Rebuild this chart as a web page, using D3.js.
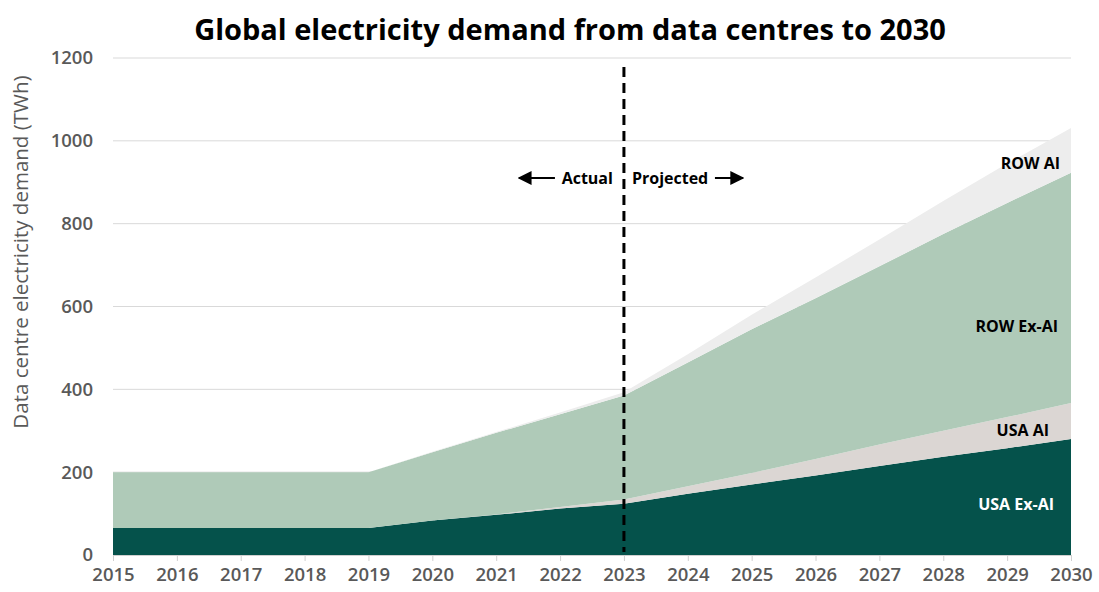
<!DOCTYPE html>
<html>
<head>
<meta charset="utf-8">
<script src="https://cdn.jsdelivr.net/npm/d3@7"></script>
<style>
  html, body { margin: 0; padding: 0; background: #fff; }
  svg text { font-family: 'Open Sans', 'Noto Sans', sans-serif; }
</style>
</head>
<body>
<div id="chart"></div>
<script>
// Data (TWh)
const years = [2015, 2016, 2017, 2018, 2019, 2020, 2021, 2022, 2023, 2024, 2025, 2026, 2027, 2028, 2029, 2030];
const usaExAI = [65, 65, 65, 65, 65, 83, 97, 112, 124, 148, 170, 192, 215, 237, 258, 280];
const usaAI = [0, 0, 0, 0, 0, 0, 1, 4, 10, 18, 28, 40, 52, 63, 75, 87];
const rowExAI = [135, 135, 135, 135, 135, 165, 197, 224, 251, 299, 347, 388, 430, 475, 517, 556];
const rowAI = [0, 0, 0, 0, 0, 1, 2, 4, 8, 20, 35, 50, 65, 80, 95, 108];
const seriesNames = ['USA Ex-AI', 'USA AI', 'ROW Ex-AI', 'ROW AI'];
const seriesColors = ['#05524b', '#dbd6d3', '#afcab8', '#ededed'];
const yTicks = [0, 200, 400, 600, 800, 1000, 1200];
const splitYear = 2023;

const W = 1099, H = 592;
const margin = { top: 58, right: 28, bottom: 37, left: 113 };
const innerW = W - margin.left - margin.right;
const innerH = H - margin.top - margin.bottom;

const rows = years.map((yr, i) => ({
  year: yr,
  'USA Ex-AI': usaExAI[i],
  'USA AI': usaAI[i],
  'ROW Ex-AI': rowExAI[i],
  'ROW AI': rowAI[i],
}));

const svg = d3.select('#chart').append('svg').attr('width', W).attr('height', H);

svg.append('text')
  .attr('x', 570).attr('y', 40)
  .attr('text-anchor', 'middle')
  .style('font-size', '29px').style('font-weight', 700).attr('fill', '#000')
  .text('Global electricity demand from data centres to 2030');

const g = svg.append('g').attr('transform', `translate(${margin.left},${margin.top})`);

const x = d3.scaleLinear().domain([2015, 2030]).range([0, innerW]);
const y = d3.scaleLinear().domain([0, 1200]).range([innerH, 0]);

// gridlines
g.selectAll('line.grid')
  .data(yTicks.filter((d) => d > 0))
  .enter()
  .append('line')
  .attr('class', 'grid')
  .attr('x1', 0).attr('x2', innerW)
  .attr('y1', (d) => y(d)).attr('y2', (d) => y(d))
  .attr('stroke', '#d9d9d9').attr('stroke-width', 1);

// stacked areas
const stack = d3.stack().keys(seriesNames);
const layers = stack(rows);
const area = d3.area()
  .x((d) => x(d.data.year))
  .y0((d) => y(d[0]))
  .y1((d) => y(d[1]));

g.selectAll('path.layer')
  .data(layers)
  .enter()
  .append('path')
  .attr('class', 'layer')
  .attr('d', area)
  .attr('fill', (d, i) => seriesColors[i]);

// y axis (labels only)
const yAxis = g.append('g')
  .call(d3.axisLeft(y).tickValues(yTicks).tickSize(0).tickPadding(20).tickFormat(d3.format('d')));
yAxis.select('.domain').remove();
yAxis.selectAll('text')
  .attr('fill', '#595959')
  .style('font-size', '18.5px').style('font-weight', 600);

// x axis
const xAxis = g.append('g')
  .attr('transform', `translate(0,${innerH})`)
  .call(d3.axisBottom(x).tickValues(years).tickFormat(d3.format('d')).tickSize(6).tickPadding(7));
xAxis.select('.domain').attr('stroke', '#d0d0d0');
xAxis.selectAll('.tick line').attr('stroke', '#d0d0d0');
xAxis.selectAll('text')
  .attr('fill', '#595959')
  .style('font-size', '18.5px').style('font-weight', 600);

// y title
svg.append('text')
  .attr('transform', `translate(28, 252) rotate(-90)`)
  .attr('text-anchor', 'middle')
  .attr('fill', '#595959')
  .style('font-size', '20.5px')
  .text('Data centre electricity demand (TWh)');

// actual / projected divider
g.append('line')
  .attr('x1', x(splitYear)).attr('x2', x(splitYear))
  .attr('y1', 9).attr('y2', innerH - 3)
  .attr('stroke', '#000').attr('stroke-width', 3)
  .attr('stroke-dasharray', '10,6');

svg.append('defs').append('marker')
  .attr('id', 'arrow')
  .attr('viewBox', '0 0 10 10')
  .attr('refX', 9).attr('refY', 5)
  .attr('markerWidth', 6).attr('markerHeight', 6)
  .attr('orient', 'auto')
  .attr('markerUnits', 'userSpaceOnUse')
  .append('path').attr('d', 'M0,0 L10,5 L0,10 Z').attr('fill', '#000');

svg.select('#arrow').attr('markerWidth', 14).attr('markerHeight', 14);

const ay = 178 - margin.top;
const sx = x(splitYear);
g.append('line')
  .attr('x1', sx - 69).attr('x2', sx - 105)
  .attr('y1', ay).attr('y2', ay)
  .attr('stroke', '#000').attr('stroke-width', 2)
  .attr('marker-end', 'url(#arrow)');
g.append('line')
  .attr('x1', sx + 91).attr('x2', sx + 119)
  .attr('y1', ay).attr('y2', ay)
  .attr('stroke', '#000').attr('stroke-width', 2)
  .attr('marker-end', 'url(#arrow)');
g.append('text')
  .attr('x', sx - 11).attr('y', ay + 6)
  .attr('text-anchor', 'end')
  .style('font-size', '16px').style('font-weight', 700)
  .text('Actual');
g.append('text')
  .attr('x', sx + 8).attr('y', ay + 6)
  .style('font-size', '16px').style('font-weight', 700)
  .text('Projected');

// series labels at right
const labelSpecs = [
  { name: 'USA Ex-AI', px: 1054, py: 510, color: '#fff' },
  { name: 'USA AI', px: 1049, py: 436, color: '#000' },
  { name: 'ROW Ex-AI', px: 1058, py: 332, color: '#000' },
  { name: 'ROW AI', px: 1060, py: 169, color: '#000' },
];
svg.selectAll('text.series')
  .data(labelSpecs)
  .enter()
  .append('text')
  .attr('class', 'series')
  .attr('x', (d) => d.px).attr('y', (d) => d.py)
  .attr('text-anchor', 'end')
  .attr('fill', (d) => d.color)
  .style('font-size', '16px').style('font-weight', 700)
  .text((d) => d.name);
</script>
</body>
</html>
